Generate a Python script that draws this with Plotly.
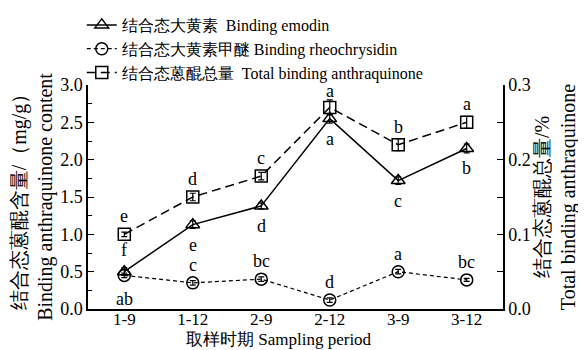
import plotly.graph_objects as go

periods = ["1-9", "1-12", "2-9", "2-12", "3-9", "3-12"]
emodin = [0.50, 1.13, 1.38, 2.55, 1.72, 2.15]
emodin_err = [0.05, 0.05, 0.04, 0.06, 0.05, 0.06]
emodin_sig = ["f", "e", "d", "a", "c", "b"]
rheo = [0.45, 0.35, 0.40, 0.12, 0.50, 0.39]
rheo_err = [0.03, 0.03, 0.03, 0.03, 0.03, 0.02]
rheo_sig = ["ab", "c", "bc", "d", "a", "bc"]
total = [0.100, 0.150, 0.178, 0.270, 0.220, 0.250]
total_err = [0.003, 0.005, 0.005, 0.010, 0.008, 0.008]
total_sig = ["e", "d", "c", "a", "b", "a"]

FONT = "Liberation Serif"
fs = 17

fig = go.Figure()
fig.add_trace(go.Scatter(
    x=periods, y=emodin, name="结合态大黄素  Binding emodin",
    mode="lines+markers",
    line=dict(color="black", width=1.5),
    marker=dict(symbol="triangle-up-open", size=12, color="black", line=dict(width=1.5)),
    error_y=dict(type="data", array=emodin_err, color="black", thickness=1.2, width=3),
))
fig.add_trace(go.Scatter(
    x=periods, y=rheo, name="结合态大黄素甲醚 Binding rheochrysidin",
    mode="lines+markers",
    line=dict(color="black", width=1.2, dash="4px,3px"),
    marker=dict(symbol="circle-open", size=12, color="black", line=dict(width=1.5)),
    error_y=dict(type="data", array=rheo_err, color="black", thickness=1.2, width=3),
))
fig.add_trace(go.Scatter(
    x=periods, y=total, name="结合态蒽醌总量  Total binding anthraquinone",
    mode="lines+markers", yaxis="y2",
    line=dict(color="black", width=1.5, dash="9px,5px"),
    marker=dict(symbol="square-open", size=12, color="black", line=dict(width=1.5)),
    error_y=dict(type="data", array=total_err, color="black", thickness=1.2, width=3),
))

# significance letters
emodin_shift = [22, -20, -20, -20, -20, -20]
for p, v, s, sh in zip(periods, emodin, emodin_sig, emodin_shift):
    fig.add_annotation(x=p, y=v, text=s, showarrow=False, yshift=sh, yref="y",
                       font=dict(family=FONT, size=18, color="black"))
rheo_shift = [-24, 18, 18, 18, 18, 18]
for p, v, s, sh in zip(periods, rheo, rheo_sig, rheo_shift):
    fig.add_annotation(x=p, y=v, text=s, showarrow=False, yshift=sh, yref="y",
                       font=dict(family=FONT, size=18, color="black"))
total_shift = [18, 18, 18, 16, 18, 18]
for p, v, s, sh in zip(periods, total, total_sig, total_shift):
    fig.add_annotation(x=p, y=v, text=s, showarrow=False, yshift=sh, yref="y2",
                       font=dict(family=FONT, size=18, color="black"))

# x-axis title
fig.add_annotation(x=0.46, y=-0.137, xref="paper", yref="paper", xanchor="center", yanchor="middle",
                   text="取样时期 Sampling period", showarrow=False,
                   font=dict(family=FONT, size=17, color="black"))

fig.update_layout(
    width=578, height=342,
    margin=dict(l=80, r=83, t=77, b=41, autoexpand=False),
    paper_bgcolor="white", plot_bgcolor="white",
    font=dict(family=FONT, size=fs, color="black"),
    showlegend=True,
    legend=dict(x=-0.015, y=1.0, xref="paper", yref="container", xanchor="left", yanchor="top",
                bgcolor="rgba(0,0,0,0)", font=dict(size=16), tracegroupgap=0,
                itemwidth=30, borderwidth=0),
    xaxis=dict(
        range=[-0.53, 5.53], showline=True, linecolor="black", linewidth=1.5,
        ticks="", showgrid=False, zeroline=False, tickfont=dict(size=17),
        ticklabelstandoff=-6,
    ),
    yaxis=dict(
        range=[0, 3], dtick=0.5, tickformat=".1f", showline=True, linecolor="black", linewidth=1.5,
        ticks="inside", ticklen=6, tickcolor="black", showgrid=False, zeroline=False,
        tickfont=dict(size=18),
        minor=dict(ticks="inside", ticklen=4, dtick=0.25, tickcolor="black"),
        title=dict(text="结合态蒽醌含量/（mg/g）<br>Binding anthraquinone content", standoff=6),
    ),
    yaxis2=dict(
        range=[0, 0.3], dtick=0.1, tickformat=".1f", overlaying="y", side="right",
        showline=True, linecolor="black", linewidth=1.5,
        ticks="inside", ticklen=6, tickcolor="black", showgrid=False, zeroline=False,
        tickfont=dict(size=18),
        minor=dict(ticks="inside", ticklen=6, dtick=0.05, tickcolor="black"),
        title=dict(text="结合态蒽醌总量/%<br>Total binding anthraquinone", standoff=0),
    ),
)

fig.write_html("out.html")
